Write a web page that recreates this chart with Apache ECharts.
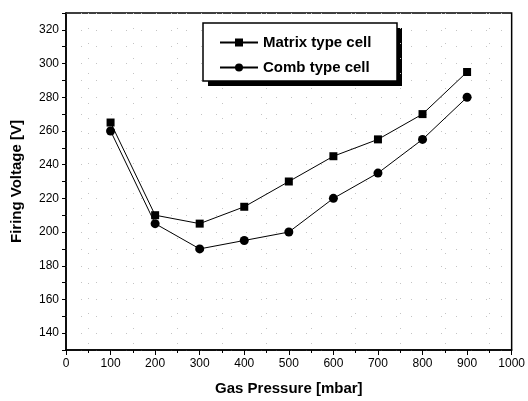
<!DOCTYPE html>
<html>
<head>
<meta charset="utf-8">
<script src="https://cdn.jsdelivr.net/npm/echarts@6/dist/echarts.min.js"></script>
<style>
  html, body { margin: 0; padding: 0; background: #fff; }
  #main { width: 528px; height: 401px; }
</style>
</head>
<body>
<div id="main"></div>
<script>
var pressure = [100, 200, 300, 400, 500, 600, 700, 800, 900];
var matrixCell = [265, 210, 205, 215, 230, 245, 255, 270, 295];
var combCell = [260, 205, 190, 195, 200, 220, 235, 255, 280];

function pairs(xs, ys) {
    return xs.map(function (x, i) { return [x, ys[i]]; });
}

var font = '"Liberation Sans", Arial, sans-serif';
var myChart = echarts.init(document.getElementById('main'));
var option = {
    backgroundColor: '#fff',
    animation: false,
    grid: { left: 66, right: 15, top: 13, bottom: 51, show: true, borderColor: '#000', borderWidth: 1.5 },
    legend: {
        orient: 'vertical',
        left: 214,
        top: 30,
        itemWidth: 38,
        itemHeight: 10,
        itemGap: 10,
        textStyle: { fontFamily: font, fontWeight: 'bold', fontSize: 15, color: '#000' },
        data: ['Matrix type cell', 'Comb type cell']
    },
    graphic: [
        { type: 'rect', shape: { x: 208, y: 28, width: 194, height: 58 }, style: { fill: '#000' }, z: 0 },
        { type: 'rect', shape: { x: 203, y: 23, width: 194, height: 58 }, style: { fill: '#fff', stroke: '#000', lineWidth: 1.5 }, z: 1 }
    ],
    xAxis: {
        type: 'value', min: 0, max: 1000, interval: 100,
        name: 'Gas Pressure [mbar]', nameLocation: 'middle', nameGap: 31,
        nameTextStyle: { fontFamily: font, fontWeight: 'bold', fontSize: 15, color: '#000' },
        axisLine: { lineStyle: { color: '#000', width: 1.5 } },
        axisTick: { inside: false, length: 5, lineStyle: { color: '#000' } },
        minorTick: { show: true, splitNumber: 2, length: 3, lineStyle: { color: '#000' } },
        axisLabel: {
            fontFamily: font, fontSize: 12, color: '#000', margin: 8,
            formatter: function (v) { return String(v); }
        },
        splitLine: { show: false },
        minorSplitLine: { show: true, lineStyle: { color: '#c4c4c4', type: [1, 14] } }
    },
    yAxis: {
        type: 'value', min: 130, max: 330, interval: 10,
        name: 'Firing Voltage [V]', nameLocation: 'middle', nameGap: 42,
        nameTextStyle: { fontFamily: font, fontWeight: 'bold', fontSize: 15, color: '#000' },
        axisLine: { show: true, lineStyle: { color: '#000', width: 1.5 } },
        axisTick: { show: true, inside: false, length: 4, lineStyle: { color: '#000' } },
        axisLabel: {
            fontFamily: font, fontSize: 12, color: '#000', margin: 7,
            formatter: function (v) { return v % 20 === 0 && v >= 140 && v <= 320 ? String(v) : ''; }
        },
        splitLine: { show: true, lineStyle: { color: '#c4c4c4', type: [1, 14] } }
    },
    series: [
        {
            name: 'Matrix type cell', type: 'line',
            data: pairs(pressure, matrixCell),
            symbol: 'rect', symbolSize: 8,
            itemStyle: { color: '#000' },
            lineStyle: { color: '#000', width: 1 },
            z: 3
        },
        {
            name: 'Comb type cell', type: 'line',
            data: pairs(pressure, combCell),
            symbol: 'circle', symbolSize: 9,
            itemStyle: { color: '#000' },
            lineStyle: { color: '#000', width: 1 },
            z: 3
        }
    ]
};
myChart.setOption(option);
</script>
</body>
</html>
